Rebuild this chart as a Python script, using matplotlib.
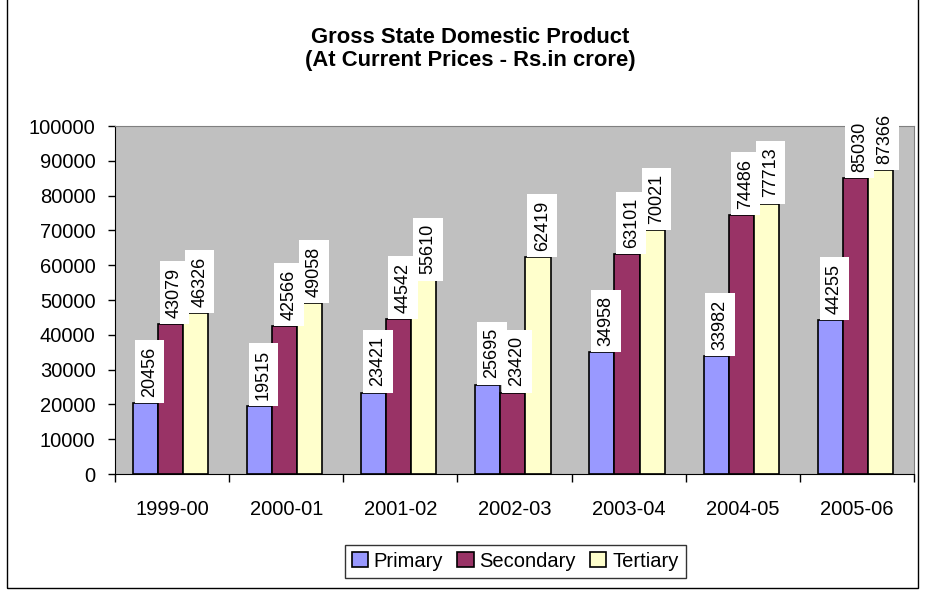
import numpy as np
import matplotlib
matplotlib.use("Agg")
from matplotlib import pyplot as plt
from matplotlib.patches import Rectangle

# data
years = ["1999-00", "2000-01", "2001-02", "2002-03", "2003-04", "2004-05", "2005-06"]
primary = [20456, 19515, 23421, 25695, 34958, 33982, 44255]
secondary = [43079, 42566, 44542, 23420, 63101, 74486, 85030]
tertiary = [46326, 49058, 55610, 62419, 70021, 77713, 87366]

plt.rcParams['font.family'] = ['Liberation Sans', 'DejaVu Sans']

fig = plt.figure(figsize=(9.25, 5.9), dpi=100)
ax = fig.add_axes([0.1243, 0.1966, 0.864, 0.5898])
ax.set_facecolor("#C0C0C0")

x = np.arange(len(years))
w = 0.22
series = [("Primary", primary, "#9999FF", -0.235),
          ("Secondary", secondary, "#993366", -0.015),
          ("Tertiary", tertiary, "#FFFFCC", 0.205)]

for name, vals, col, off in series:
    ax.bar(x + off, vals, w, color=col, edgecolor="black", linewidth=1.2, label=name, zorder=2)

# value labels in white boxes sitting on top of the bars
for name, vals, col, off in series:
    for xi, v in zip(x, vals):
        ax.annotate(str(v), (xi + off, v), xytext=(3, 4.5), textcoords="offset points",
                    rotation=90, ha="center", va="bottom", fontsize=13,
                    bbox=dict(facecolor="white", edgecolor="none", pad=4.5), zorder=3)

ax.set_xlim(-0.5, len(years) - 0.5)
ax.set_ylim(0, 100000)
ax.set_yticks(np.arange(0, 100001, 10000))
ax.tick_params(axis="y", labelsize=14.5, length=5, direction="out", width=1, pad=9)
ax.set_xticks(np.arange(-0.5, len(years), 1))
ax.set_xticklabels([])
ax.set_xticks(x, minor=True)
ax.set_xticklabels(years, minor=True, fontsize=14.5)
ax.tick_params(axis="x", which="major", length=6, direction="out", width=1)
ax.tick_params(axis="x", which="minor", length=0, pad=19)

ax.spines["left"].set_color("black")
ax.spines["bottom"].set_color("black")
ax.spines["top"].set_color("#808080")
ax.spines["right"].set_color("#808080")

fig.text(0.508, 0.937, "Gross State Domestic Product", ha="center", va="center",
         fontsize=15.8, fontweight="bold")
fig.text(0.508, 0.898, "(At Current Prices - Rs.in crore)", ha="center", va="center",
         fontsize=15.8, fontweight="bold")

leg = fig.legend(loc="center", bbox_to_anchor=(0.557, 0.049), ncol=3, fontsize=14.5,
                 frameon=True, fancybox=False, edgecolor="black", handlelength=0.8,
                 handleheight=0.8, handletextpad=0.3, columnspacing=0.7, borderpad=0.35)
leg.get_frame().set_linewidth(1)

# outer chart border
fig.patches.append(Rectangle((0.008, 0.004), 0.984, 1.1, transform=fig.transFigure,
                             fill=False, edgecolor="black", linewidth=1))

fig.savefig("out.png", dpi=100)
